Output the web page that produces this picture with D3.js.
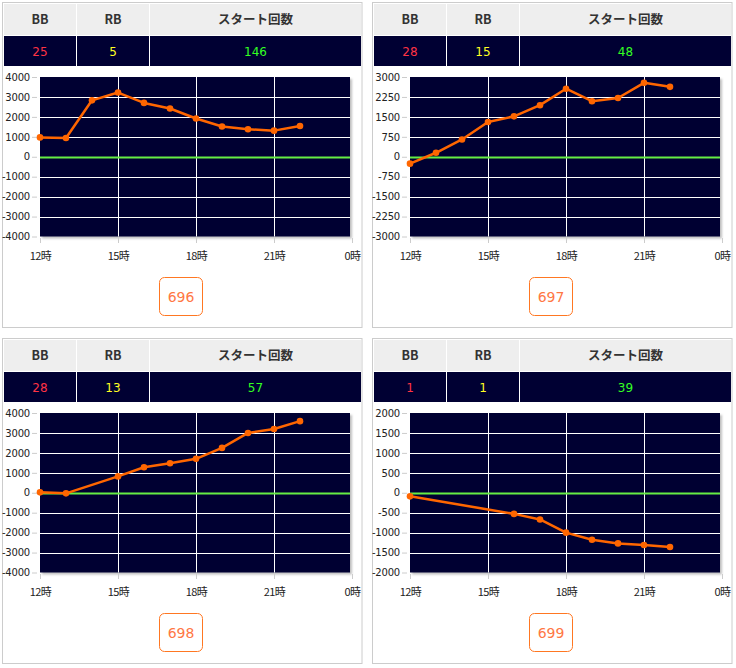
<!DOCTYPE html>
<html><head><meta charset="utf-8">
<script src="https://cdn.jsdelivr.net/npm/d3@7"></script>
<style>
body{margin:0;background:#fff;}
svg{display:block;}
</style></head>
<body>
<svg id="c" width="736" height="668"></svg>
<script>
// ---- data ----
const machines = ["696", "697", "698", "699"];
const bbCounts = [25, 28, 28, 1];
const rbCounts = [5, 15, 13, 1];
const startCounts = [146, 48, 57, 39];
const headerLabels = ["BB", "RB", "スタート回数"];
const xTickHours = [12, 15, 18, 21, 24];
const xTickLabels = ["12時", "15時", "18時", "21時", "0時"];
const yTicks696 = [4000, 3000, 2000, 1000, 0, -1000, -2000, -3000, -4000];
const yTicks697 = [3000, 2250, 1500, 750, 0, -750, -1500, -2250, -3000];
const yTicks698 = [4000, 3000, 2000, 1000, 0, -1000, -2000, -3000, -4000];
const yTicks699 = [2000, 1500, 1000, 500, 0, -500, -1000, -1500, -2000];
const hours696 = [12, 13, 14, 15, 16, 17, 18, 19, 20, 21, 22];
const values696 = [970, 940, 2830, 3220, 2700, 2420, 1920, 1520, 1380, 1310, 1540];
const hours697 = [12, 13, 14, 15, 16, 17, 18, 19, 20, 21, 22];
const values697 = [-260, 150, 650, 1310, 1520, 1940, 2560, 2090, 2210, 2780, 2630];
const hours698 = [12, 13, 15, 16, 17, 18, 19, 20, 21, 22];
const values698 = [20, -30, 820, 1280, 1480, 1700, 2250, 3000, 3200, 3590];
const hours699 = [12, 16, 17, 18, 19, 20, 21, 22];
const values699 = [-90, -530, -670, -1000, -1180, -1270, -1310, -1360];

const panels = [
  {id: machines[0], bb: bbCounts[0], rb: rbCounts[0], st: startCounts[0], ticks: yTicks696, hours: hours696, values: values696, ox: 0, oy: 0},
  {id: machines[1], bb: bbCounts[1], rb: rbCounts[1], st: startCounts[1], ticks: yTicks697, hours: hours697, values: values697, ox: 370, oy: 0},
  {id: machines[2], bb: bbCounts[2], rb: rbCounts[2], st: startCounts[2], ticks: yTicks698, hours: hours698, values: values698, ox: 0, oy: 336},
  {id: machines[3], bb: bbCounts[3], rb: rbCounts[3], st: startCounts[3], ticks: yTicks699, hours: hours699, values: values699, ox: 370, oy: 336}
];

const svg = d3.select("#c");
const defs = svg.append("defs");
const f = defs.append("filter").attr("id", "sh").attr("x", "-5%").attr("y", "-5%").attr("width", "115%").attr("height", "115%");
f.append("feDropShadow").attr("dx", 2).attr("dy", 2).attr("stdDeviation", 1.2).attr("flood-color", "#000").attr("flood-opacity", 0.25);

const numFont = "'DejaVu Sans', Verdana, sans-serif";
const jpFont = "'Noto Sans CJK JP', sans-serif";

panels.forEach(p => {
  const g = svg.append("g").attr("transform", `translate(${p.ox},${p.oy})`);
  // panel border
  g.append("rect").attr("x", 2.5).attr("y", 2.5).attr("width", 359.5).attr("height", 325)
    .attr("fill", "#fff").attr("stroke", "#cccccc").attr("stroke-width", 1);

  // header table
  const cols = [[4, 76], [77, 149], [150, 361]];
  cols.forEach((c, i) => {
    g.append("rect").attr("x", c[0]).attr("y", 4).attr("width", c[1] - c[0]).attr("height", 31).attr("fill", "#eeeeee");
    g.append("rect").attr("x", c[0]).attr("y", 36).attr("width", c[1] - c[0]).attr("height", 30).attr("fill", "#000033");
    g.append("text").attr("x", (c[0] + c[1]) / 2).attr("y", 24).attr("text-anchor", "middle")
      .attr("font-family", jpFont).attr("font-size", 12.5).attr("font-weight", "bold").attr("fill", "#333")
      .text(headerLabels[i]);
  });
  const nums = [p.bb, p.rb, p.st];
  const numColors = ["#ff3344", "#ffff22", "#33ff22"];
  cols.forEach((c, i) => {
    g.append("text").attr("x", (c[0] + c[1]) / 2).attr("y", 55.5).attr("text-anchor", "middle")
      .attr("font-family", numFont).attr("font-size", 12).attr("fill", numColors[i]).text(nums[i]);
  });

  // chart
  const x = d3.scaleLinear().domain([12, 24]).range([40, 352]);
  const y = d3.scaleLinear().domain([p.ticks[p.ticks.length - 1], p.ticks[0]]).range([236.5, 77]);

  g.append("rect").attr("x", 40).attr("y", 77).attr("width", 310).attr("height", 159.5)
    .attr("fill", "#000033").attr("filter", "url(#sh)");

  // grid
  const gridG = g.append("g");
  gridG.selectAll("line.h").data(p.ticks.slice(1, -1).filter(t => t !== 0)).join("line")
    .attr("x1", 40).attr("x2", 350).attr("y1", d => Math.round(y(d)) + 0.5).attr("y2", d => Math.round(y(d)) + 0.5)
    .attr("stroke", "#ffffff").attr("stroke-width", 1);
  gridG.selectAll("line.v").data(xTickHours.slice(1, -1)).join("line")
    .attr("x1", d => Math.round(x(d)) + 0.5).attr("x2", d => Math.round(x(d)) + 0.5).attr("y1", 77).attr("y2", 236.5)
    .attr("stroke", "#ffffff").attr("stroke-width", 1);
  // zero line
  g.append("line").attr("x1", 40).attr("x2", 350).attr("y1", Math.round(y(0)) + 0.5).attr("y2", Math.round(y(0)) + 0.5)
    .attr("stroke", "#66ee44").attr("stroke-width", 1.8);

  // y axis
  const yAxis = d3.axisLeft(y).tickValues(p.ticks).tickSize(5).tickPadding(2).tickFormat(d => String(d));
  const ya = g.append("g").attr("transform", "translate(37,0)").call(yAxis);
  ya.select(".domain").remove();
  ya.selectAll(".tick line").attr("stroke", "#cccccc");
  ya.selectAll("text").attr("font-family", numFont).attr("font-size", 10).attr("fill", "#222").attr("letter-spacing", "-0.2");

  // x axis
  const xAxis = d3.axisBottom(x).tickValues(xTickHours).tickSize(5).tickPadding(9)
    .tickFormat((d, i) => xTickLabels[i]);
  const xa = g.append("g").attr("transform", "translate(0,238)").call(xAxis);
  xa.select(".domain").remove();
  xa.selectAll(".tick line").attr("stroke", "#cccccc");
  xa.selectAll("text").attr("font-family", jpFont).attr("font-size", 11).attr("fill", "#222").attr("letter-spacing", "-0.5");

  // line
  const pts = p.hours.map((h, i) => [h, p.values[i]]);
  g.append("path").datum(pts)
    .attr("d", d3.line().x(d => x(d[0])).y(d => y(d[1])))
    .attr("fill", "none").attr("stroke", "#ff6600").attr("stroke-width", 2.5).attr("stroke-linejoin", "round");
  g.selectAll("circle.pt").data(pts).join("circle")
    .attr("cx", d => x(d[0])).attr("cy", d => y(d[1])).attr("r", 3.3).attr("fill", "#ff6600");

  // machine label box
  g.append("rect").attr("x", 159.5).attr("y", 277.5).attr("width", 43).attr("height", 38).attr("rx", 5)
    .attr("fill", "#fff").attr("stroke", "#ff7722").attr("stroke-width", 1);
  g.append("text").attr("x", 181).attr("y", 302).attr("text-anchor", "middle")
    .attr("font-family", numFont).attr("font-size", 14).attr("fill", "#ff7744").text(p.id);
});
</script>
</body></html>
